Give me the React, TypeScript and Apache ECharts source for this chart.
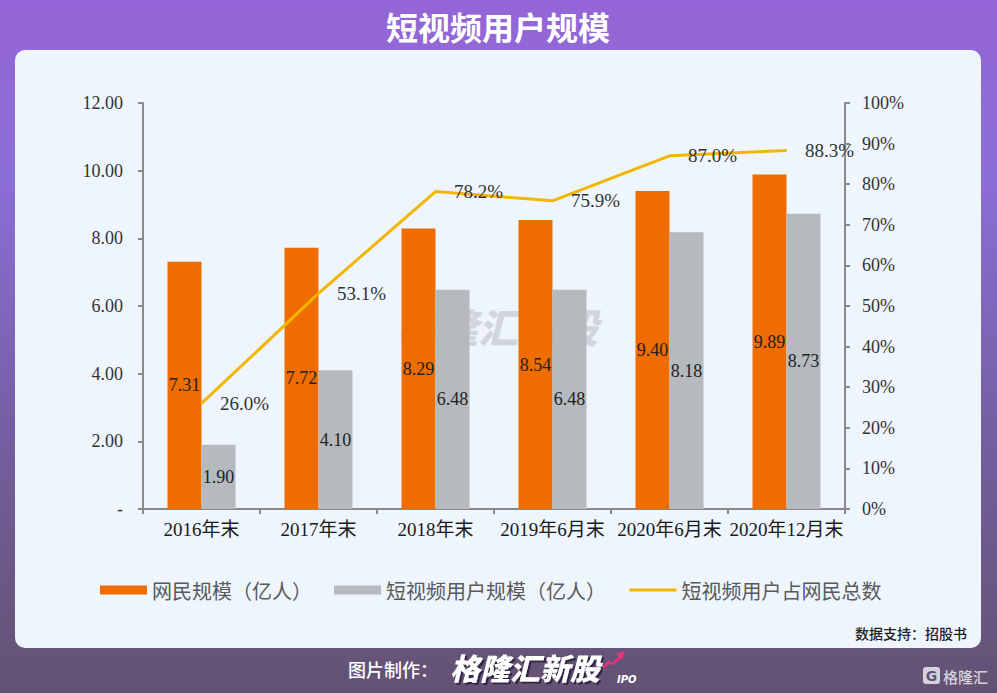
import React, { useEffect, useRef } from "react";
import * as echarts from "echarts";

const categories = ["2016年末", "2017年末", "2018年末", "2019年6月末", "2020年6月末", "2020年12月末"];
const netizens = [7.31, 7.72, 8.29, 8.54, 9.40, 9.89];
const shortVideoUsers = [1.90, 4.10, 6.48, 6.48, 8.18, 8.73];
const shareOfNetizens = [26.0, 53.1, 78.2, 75.9, 87.0, 88.3];
const seriesNames = ["网民规模（亿人）", "短视频用户规模（亿人）", "短视频用户占网民总数"];
const titleText = "短视频用户规模";
const sourceText = "数据支持：招股书";

const SERIF = "'Liberation Serif', 'Noto Sans CJK SC', serif";
const CJK = "'Noto Sans CJK SC', sans-serif";

export default function App() {
  const ref = useRef<HTMLDivElement>(null);
  useEffect(() => {
    if (!ref.current) return;
    const chart = echarts.init(ref.current, undefined, { renderer: "svg" });
    const axisLine = { show: true, lineStyle: { color: "#8a8a8a", width: 2 } };
    const axisTick = { show: true, length: 5, lineStyle: { color: "#8a8a8a", width: 2 } };
    chart.setOption({
      animation: false,
      graphic: [
        {
          type: "rect",
          z: -20,
          silent: true,
          shape: { x: 0, y: 0, width: 997, height: 693 },
          style: {
            fill: new echarts.graphic.LinearGradient(0, 0, 0, 1, [
              { offset: 0, color: "#9465D6" },
              { offset: 0.25, color: "#8C6ED8" },
              { offset: 0.65, color: "#735E9E" },
              { offset: 1, color: "#635272" },
            ]),
          },
        },
        {
          type: "rect",
          z: -19,
          silent: true,
          shape: { x: 15, y: 50, width: 966, height: 598, r: 10 },
          style: { fill: "#EEF5FC" },
        },
        {
          type: "text",
          z: 20,
          x: 498,
          y: 26,
          style: {
            text: titleText,
            fill: "#ffffff",
            font: `bold 32px ${CJK}`,
            align: "center",
            verticalAlign: "middle",
          },
        },
        {
          type: "text",
          z: -5,
          x: 498,
          y: 326,
          style: {
            text: "格隆汇新股",
            fill: "rgba(185,188,192,0.55)",
            font: `italic 900 40px ${CJK}`,
            align: "center",
            verticalAlign: "middle",
          },
        },
        {
          type: "text",
          z: 20,
          x: 967,
          y: 633,
          style: {
            text: sourceText,
            fill: "#222222",
            font: `500 14px ${CJK}`,
            align: "right",
            verticalAlign: "middle",
          },
        },
        {
          type: "text",
          z: 20,
          x: 348,
          y: 669,
          style: {
            text: "图片制作：",
            fill: "#ffffff",
            font: `500 18px ${CJK}`,
            align: "left",
            verticalAlign: "middle",
          },
        },
        {
          type: "text",
          z: 20,
          x: 525,
          y: 667,
          style: {
            text: "格隆汇新股",
            fill: "#ffffff",
            font: `italic 900 30px ${CJK}`,
            align: "center",
            verticalAlign: "middle",
            textShadowColor: "rgba(40,30,60,0.8)",
            textShadowOffsetX: 2,
            textShadowOffsetY: 2,
            textShadowBlur: 1,
          },
        },
        {
          type: "polyline",
          z: 20,
          shape: { points: [[603, 668], [609, 662], [613, 664], [620, 657]] },
          style: { stroke: "#E8337A", lineWidth: 2.5, fill: null },
        },
        {
          type: "polygon",
          z: 20,
          shape: { points: [[616, 654], [625, 651], [622, 660]] },
          style: { fill: "#E8337A" },
        },
        {
          type: "text",
          z: 20,
          x: 617,
          y: 679,
          style: {
            text: "IPO",
            fill: "#ffffff",
            font: `italic bold 10px 'DejaVu Sans', sans-serif`,
            align: "left",
            verticalAlign: "middle",
          },
        },
        {
          type: "rect",
          z: 20,
          shape: { x: 923, y: 667, width: 17, height: 17, r: 3 },
          style: { fill: "#D6D3DE" },
        },
        {
          type: "text",
          z: 21,
          x: 931.5,
          y: 676,
          style: {
            text: "G",
            fill: "#635272",
            font: `bold 14px 'DejaVu Sans', sans-serif`,
            align: "center",
            verticalAlign: "middle",
          },
        },
        {
          type: "text",
          z: 20,
          x: 943,
          y: 676,
          style: {
            text: "格隆汇",
            fill: "#D6D3DE",
            font: `500 15px ${CJK}`,
            align: "left",
            verticalAlign: "middle",
          },
        },
      ],
      legend: {
        left: 95,
        top: 575,
        itemWidth: 47,
        itemHeight: 9,
        itemGap: 22,
        textStyle: { fontFamily: CJK, fontSize: 20, color: "#5a5a5a" },
        data: [
          { name: seriesNames[0], icon: "rect" },
          { name: seriesNames[1], icon: "rect" },
          { name: seriesNames[2], itemStyle: { opacity: 0 }, lineStyle: { width: 3 } },
        ],
      },
      grid: { left: 143, right: 152, top: 103, bottom: 184, containLabel: false },
      xAxis: {
        type: "category",
        data: categories,
        axisLine,
        axisTick,
        axisLabel: { interval: 0, margin: 11, fontFamily: SERIF, fontSize: 19, color: "#1a1a1a" },
      },
      yAxis: [
        {
          type: "value",
          min: 0,
          max: 12,
          interval: 2,
          axisLine,
          axisTick,
          splitLine: { show: false },
          axisLabel: {
            margin: 20,
            fontFamily: SERIF,
            fontSize: 18,
            color: "#333333",
            formatter: (v: number) => (v === 0 ? "-" : v.toFixed(2)),
          },
        },
        {
          type: "value",
          min: 0,
          max: 100,
          interval: 10,
          position: "right",
          axisLine,
          axisTick,
          splitLine: { show: false },
          axisLabel: {
            margin: 17,
            fontFamily: SERIF,
            fontSize: 18,
            color: "#333333",
            formatter: (v: number) => `${v}%`,
          },
        },
      ],
      series: [
        {
          name: seriesNames[0],
          type: "bar",
          data: netizens,
          barWidth: 34,
          barGap: "0%",
          itemStyle: { color: "#EE6C00" },
          label: {
            show: true,
            position: "inside",
            fontFamily: SERIF,
            fontSize: 18,
            color: "#222222",
            formatter: (p: any) => Number(p.value).toFixed(2),
          },
        },
        {
          name: seriesNames[1],
          type: "bar",
          data: shortVideoUsers,
          barWidth: 34,
          barGap: "0%",
          itemStyle: { color: "#B4BABE" },
          label: {
            show: true,
            position: "inside",
            fontFamily: SERIF,
            fontSize: 18,
            color: "#222222",
            formatter: (p: any) => Number(p.value).toFixed(2),
          },
        },
        {
          name: seriesNames[2],
          type: "line",
          yAxisIndex: 1,
          data: shareOfNetizens,
          symbol: "circle",
          symbolSize: 1,
          showSymbol: true,
          z: 5,
          lineStyle: { color: "#F2B600", width: 3 },
          itemStyle: { color: "#F2B600" },
          labelLayout: { hideOverlap: false },
          label: {
            show: true,
            position: "right",
            distance: 18,
            offset: [0, 3],
            fontFamily: SERIF,
            fontSize: 19,
            color: "#333333",
            formatter: (p: any) => `${Number(p.value).toFixed(1)}%`,
          },
        },
      ],
    });
    return () => chart.dispose();
  }, []);
  return (
    <div
      ref={ref}
      style={{ position: "absolute", left: 0, top: 0, width: 997, height: 693 }}
    />
  );
}
